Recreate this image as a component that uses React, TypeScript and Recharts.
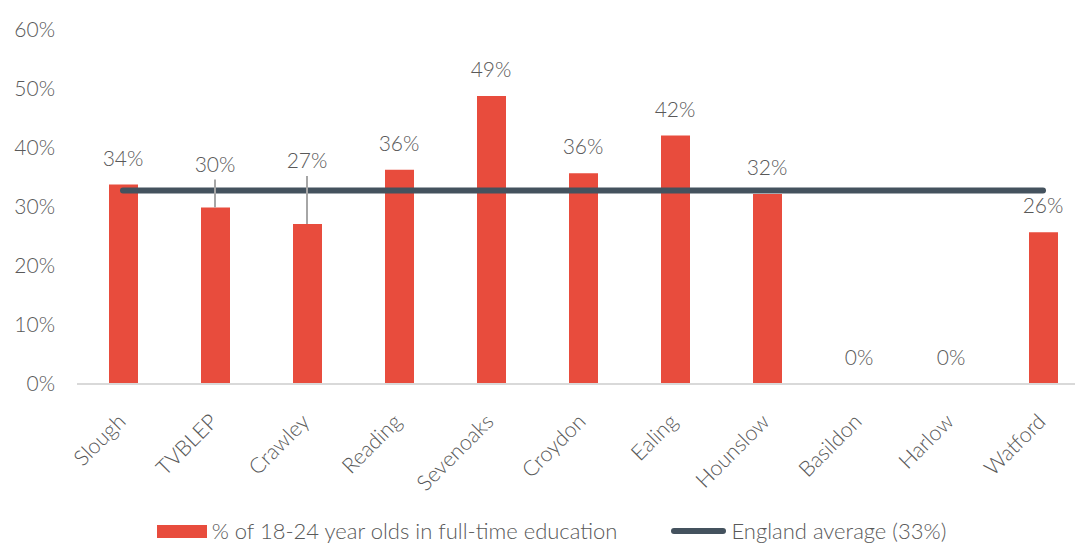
import { Bar, ComposedChart, LabelList, Legend, Line, XAxis, YAxis } from "recharts";

const areas = ["Slough", "TVBLEP", "Crawley", "Reading", "Sevenoaks", "Croydon", "Ealing", "Hounslow", "Basildon", "Harlow", "Watford"];
const fullTimeShare = [33.8, 29.9, 27.1, 36.3, 48.8, 35.7, 42.1, 32.2, 0, 0, 25.7];
const englandAverage = 32.8;
const yTicks = [0, 10, 20, 30, 40, 50, 60];

const RED = "#E84C3D";
const SLATE = "#44525E";
const TEXT = "#595959";
const FONT = "Lato, 'Open Sans', sans-serif";

// labels that Excel nudged upward to clear the average line
const labelLift: Record<string, number> = { TVBLEP: 17, Crawley: 37 };

const data = areas.map((name, i) => ({ name, share: fullTimeShare[i], avg: englandAverage }));

function XTick({ x, y, payload }: any) {
  const ax = x + 4;
  const ay = y + 31;
  return (
    <text
      x={ax}
      y={ay}
      transform={`rotate(-45, ${ax}, ${ay})`}
      textAnchor="end"
      fill={TEXT}
      fontSize={21.5}
      fontWeight={300}
      fontFamily={FONT}
    >
      {payload.value}
    </text>
  );
}

function YTick({ y, payload }: any) {
  return (
    <text x={55} y={y} dy={7} textAnchor="end" fill={TEXT} fontSize={21} fontWeight={300} fontFamily={FONT}>
      {payload.value}%
    </text>
  );
}

// drawn from an invisible line over the bars so that 0% values get a label too
function ValueLabel({ x, y, value, index }: any) {
  const lift = labelLift[areas[index]] ?? 0;
  const cy = y - 26 - lift;
  return (
    <g>
      {lift > 0 && <line x1={x} x2={x} y1={cy + 15} y2={y} stroke="#A6A6A6" strokeWidth={2} />}
      <text x={x} y={cy} dy={7} textAnchor="middle" fill={TEXT} fontSize={21} fontWeight={300} fontFamily={FONT}>
        {Math.round(value)}%
      </text>
    </g>
  );
}

function LegendBox() {
  const txt = { color: TEXT, fontSize: 22, lineHeight: "24px", fontWeight: 300, fontFamily: FONT };
  return (
    <div style={{ display: "flex", justifyContent: "center", alignItems: "center", paddingTop: 15, paddingLeft: 14 }}>
      <span style={{ display: "inline-block", width: 50, height: 13, background: RED, marginRight: 5 }} />
      <span style={{ ...txt, marginRight: 54 }}>% of 18-24 year olds in full-time education</span>
      <span style={{ display: "inline-block", width: 55, height: 6, borderRadius: 3, background: SLATE, marginRight: 5 }} />
      <span style={txt}>England average (33%)</span>
    </div>
  );
}

export default function App() {
  return (
    <div style={{ position: "absolute", left: 0, top: 0, width: 1075, height: 547, overflow: "hidden", background: "#fff" }}>
      <ComposedChart width={1100} height={547} data={data} margin={{ top: 30, right: 11, left: 0, bottom: 0 }}>
        <YAxis
          width={77}
          domain={[0, 60]}
          ticks={yTicks}
          axisLine={false}
          tickLine={false}
          tick={<YTick />}
        />
        <XAxis
          dataKey="name"
          height={120}
          interval={0}
          axisLine={{ stroke: "#D9D9D9", strokeWidth: 2 }}
          tickLine={false}
          tick={<XTick />}
        />
        <Legend verticalAlign="bottom" height={43} content={<LegendBox />} />
        <Bar dataKey="share" fill={RED} barSize={29} isAnimationActive={false} />
        <Line
          dataKey="avg"
          stroke={SLATE}
          strokeWidth={6}
          strokeLinecap="round"
          dot={false}
          activeDot={false}
          isAnimationActive={false}
        />
        <Line
          dataKey="share"
          stroke="none"
          dot={false}
          activeDot={false}
          legendType="none"
          isAnimationActive={false}
        >
          <LabelList dataKey="share" content={<ValueLabel />} />
        </Line>
      </ComposedChart>
    </div>
  );
}
